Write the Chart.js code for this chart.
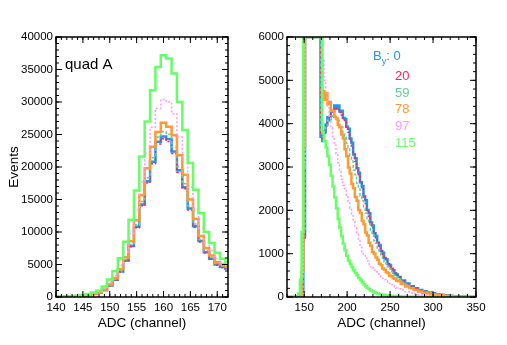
<!DOCTYPE html>
<html>
<head>
<meta charset="utf-8">
<script src="https://cdn.jsdelivr.net/npm/chart.js@4.4.0/dist/chart.umd.min.js"></script>
<style>
  html, body { margin: 0; padding: 0; background: #fff; }
  #wrap { position: relative; width: 507px; height: 345px; overflow: hidden; }
  .pane { position: absolute; top: 0; height: 345px; }
  #leftPane { left: 0; width: 250px; }
  #rightPane { left: 250px; width: 257px; }
</style>
</head>
<body>
<div id="wrap">
  <div class="pane" id="leftPane"><canvas id="leftChart"></canvas></div>
  <div class="pane" id="rightPane"><canvas id="rightChart"></canvas></div>
</div>
<script>
// ---- left panel (quad A), one bin per ADC channel ----
const leftChannels = [140, 141, 142, 143, 144, 145, 146, 147, 148, 149, 150, 151, 152, 153, 154, 155, 156,
  157, 158, 159, 160, 161, 162, 163, 164, 165, 166, 167, 168, 169, 170, 171, 172];
const leftBy0 = [30, 40, 60, 90, 130, 200, 300, 460, 640, 1050, 1780, 2640, 3930, 5600, 7850, 10800, 14250,
  17800, 20800, 23900, 24700, 24300, 22400, 19500, 16900, 13600, 10900, 8600, 6900, 5900, 5000, 4600, 4400];
const leftBy20 = [30, 40, 60, 90, 130, 195, 295, 455, 630, 1035, 1750, 2600, 3870, 5520, 7730, 10640, 14040,
  17530, 20490, 23540, 24330, 23940, 22060, 19210, 16650, 13400, 10740, 8470, 6800, 5810, 4930, 4530, 4330];
const leftBy59 = [30, 40, 60, 95, 135, 205, 310, 475, 660, 1080, 1830, 2720, 4050, 5770, 8090, 11120, 14680,
  18330, 21420, 24620, 25440, 25030, 23070, 20090, 17410, 14010, 11230, 8860, 7110, 6080, 5150, 4740, 4530];
const leftBy78 = [40, 50, 65, 95, 145, 215, 330, 500, 700, 1150, 1950, 2880, 4280, 6120, 8570, 11800, 15700,
  19800, 23100, 25400, 26800, 26200, 24900, 21800, 18800, 15000, 12000, 9400, 7500, 6400, 5400, 5000, 4800];
const leftBy97 = [50, 60, 75, 105, 165, 245, 380, 575, 800, 1310, 2210, 3280, 4880, 6970, 9760, 13450, 17700,
  22100, 26100, 29000, 30400, 30000, 28200, 24600, 21100, 16900, 13500, 10600, 8400, 7100, 5900, 5300, 5000];
const leftBy115 = [60, 70, 90, 130, 200, 300, 460, 700, 970, 1600, 2700, 4000, 5950, 8500, 11900, 16400, 21600,
  27000, 31800, 35400, 37200, 36700, 34400, 30000, 25700, 20600, 16500, 12900, 10000, 8300, 6800, 5900, 5400];
const leftXTicks = [140, 145, 150, 155, 160, 165, 170];
const leftYTicks = [0, 5000, 10000, 15000, 20000, 25000, 30000, 35000, 40000];

// ---- right panel, 2-channel bins up to 260, 5-channel bins in the tail ----
const rightChannels = [130, 132, 134, 136, 138, 140, 142, 144, 146, 148, 150, 152, 154, 156, 158, 160, 162, 164,
  166, 168, 170, 172, 174, 176, 178, 180, 182, 184, 186, 188, 190, 192, 194, 196, 198, 200, 202, 204, 206, 208,
  210, 212, 214, 216, 218, 220, 222, 224, 226, 228, 230, 232, 234, 236, 238, 240, 242, 244, 246, 248, 250, 252,
  254, 256, 258, 260, 265, 270, 275, 280, 285, 290, 295, 300, 305, 310, 315, 320, 325, 330, 335, 340, 345, 350];
const rightBy0 = [0, 0, 0, 0, 0, 0, 0, 0, 0, 150, 1400, 6000, 6000, 6000, 6000, 6000, 6000, 6000, 6000, 6000,
  3700, 3600, 3820, 3980, 4150, 4120, 4300, 4280, 4420, 4350, 4420, 4280, 4300, 4130, 4110, 3930, 3880, 3660,
  3560, 3290, 3200, 2970, 2870, 2650, 2560, 2320, 2230, 2010, 1930, 1720, 1650, 1470, 1410, 1250, 1200, 1060,
  1020, 900, 870, 760, 740, 650, 620, 550, 520, 460,
  380, 310, 250, 200, 160, 130, 105, 85, 65, 50, 38, 28, 20, 14, 9, 6, 3, 2];
const rightBy20 = [0, 0, 0, 0, 0, 0, 0, 0, 0, 120, 1300, 6000, 6000, 6000, 6000, 6000, 6000, 6000, 6000, 6000,
  3750, 3620, 3760, 3950, 4060, 4150, 4220, 4300, 4360, 4350, 4320, 4260, 4200, 4130, 4030, 3920, 3800, 3650,
  3480, 3300, 3130, 2980, 2800, 2650, 2490, 2320, 2160, 2010, 1860, 1730, 1600, 1470, 1360, 1250, 1150, 1060,
  980, 900, 830, 765, 705, 650, 600, 550, 500, 460,
  370, 300, 245, 195, 155, 125, 100, 80, 62, 48, 36, 27, 19, 13, 8, 5, 3, 2];
const rightBy59 = [0, 0, 0, 0, 0, 0, 0, 0, 0, 150, 1500, 6000, 6000, 6000, 6000, 6000, 6000, 6000, 6000, 6000,
  3850, 3700, 3880, 3920, 4080, 4070, 4180, 4150, 4190, 4090, 4080, 3960, 3920, 3770, 3710, 3540, 3450, 3250,
  3140, 2930, 2820, 2620, 2520, 2330, 2220, 2040, 1940, 1770, 1680, 1520, 1450, 1300, 1240, 1110, 1060, 950,
  900, 810, 770, 690, 650, 580, 550, 490, 470, 410,
  340, 270, 215, 170, 135, 108, 85, 66, 50, 38, 28, 20, 14, 9, 6, 4, 2, 1];
const rightBy78 = [0, 0, 0, 0, 0, 0, 0, 0, 50, 600, 3500, 6000, 6000, 6000, 6000, 6000, 6000, 6000, 6000, 6000,
  6000, 4750, 4550, 4700, 4450, 4500, 4300, 4290, 4160, 4120, 3970, 3920, 3750, 3660, 3410, 3250, 2990, 2850,
  2610, 2510, 2310, 2220, 2010, 1940, 1760, 1680, 1490, 1420, 1250, 1180, 1040, 1000, 910, 860, 770, 730,
  660, 630, 570, 550, 490, 480, 430, 420, 375, 365,
  300, 245, 200, 160, 125, 100, 80, 65, 50, 38, 28, 20, 14, 9, 6, 3, 2, 1];
const rightBy97 = [0, 0, 0, 0, 0, 0, 0, 0, 50, 500, 3000, 6000, 6000, 6000, 6000, 6000, 6000, 6000, 6000, 6000,
  6000, 5500, 5000, 4700, 4400, 4150, 3900, 3700, 3500, 3300, 3100, 2900, 2720, 2580, 2460, 2350, 2200, 2050,
  1900, 1750, 1600, 1450, 1300, 1150, 1050, 980, 900, 830, 760, 700, 670, 620, 580, 540, 500, 470,
  430, 400, 370, 340, 310, 285, 260, 235, 210, 190,
  160, 120, 90, 70, 52, 40, 30, 22, 16, 11, 8, 5, 3, 2, 1, 1, 0, 0];
const rightBy115 = [0, 0, 0, 0, 0, 0, 20, 80, 400, 1500, 6000, 6000, 6000, 6000, 6000, 6000, 6000, 6000, 6000, 6000,
  6000, 3800, 3600, 3450, 3250, 3050, 2800, 2550, 2300, 2050, 1800, 1600, 1400, 1230, 1080, 950, 840, 760,
  690, 620, 560, 500, 440, 390, 340, 290, 250, 210, 180, 150, 125, 105, 90, 78, 68, 60,
  52, 45, 40, 35, 30, 27, 24, 21, 18, 16,
  12, 9, 7, 5, 4, 3, 2, 2, 1, 1, 1, 0, 0, 0, 0, 0, 0, 0];
const rightXTicks = [150, 200, 250, 300, 350];
const rightYTicks = [0, 1000, 2000, 3000, 4000, 5000, 6000];

// field values (B_y) and how each one is drawn
const fieldLabels = ['0', '20', '59', '78', '97', '115'];
const STYLES = {
  '0':   { color: '#2196f3', width: 2.5, dash: [],     order: 6 },
  '20':  { color: '#ff1f55', width: 1.5, dash: [2, 2], order: 5 },
  '59':  { color: '#66cc99', width: 1.5, dash: [3, 2], order: 4 },
  '78':  { color: '#ff9933', width: 2.5, dash: [],     order: 3 },
  '97':  { color: '#ff99ff', width: 1.5, dash: [2, 2], order: 2 },
  '115': { color: '#66ff66', width: 2.5, dash: [],     order: 1 }
};

const FONT = "'Liberation Sans', Arial, Helvetica, sans-serif";
Chart.defaults.font.family = FONT;
Chart.defaults.color = '#000';

// ROOT-like frame with inward major/minor ticks on all four sides, plus free text
const frameTicks = {
  id: 'frameTicks',
  afterDatasetsDraw(chart, args, opts) {
    const { ctx, chartArea: a } = chart;
    const xs = chart.scales.x, ys = chart.scales.y;
    ctx.save();
    ctx.strokeStyle = '#000';
    ctx.lineWidth = 1;
    const marks = (scale, step, len) => {
      const n0 = Math.ceil(scale.min / step - 1e-6), n1 = Math.floor(scale.max / step + 1e-6);
      ctx.beginPath();
      for (let n = n0; n <= n1; n++) {
        const p = scale.getPixelForValue(n * step);
        if (scale.isHorizontal()) {
          ctx.moveTo(p, a.bottom); ctx.lineTo(p, a.bottom - len);
          ctx.moveTo(p, a.top); ctx.lineTo(p, a.top + len);
        } else {
          ctx.moveTo(a.left, p); ctx.lineTo(a.left + len, p);
          ctx.moveTo(a.right, p); ctx.lineTo(a.right - len, p);
        }
      }
      ctx.stroke();
    };
    marks(xs, opts.xMinor, 3); marks(xs, opts.xMajor, 6);
    marks(ys, opts.yMinor, 3); marks(ys, opts.yMajor, 6);
    ctx.lineWidth = 1.5;
    ctx.strokeRect(a.left, a.top, a.right - a.left, a.bottom - a.top);
    ctx.restore();
  },
  afterDraw(chart, args, opts) {
    const ctx = chart.ctx;
    ctx.save();
    ctx.textBaseline = 'alphabetic';
    (opts.notes || []).forEach(n => {
      let cx = n.x;
      n.parts.forEach(p => {
        const size = p.sub ? n.size * 0.72 : n.size;
        ctx.font = size + 'px ' + FONT;
        ctx.fillStyle = n.color;
        ctx.fillText(p.t, cx, n.y + (p.sub ? n.size * 0.28 : 0));
        cx += ctx.measureText(p.t).width;
      });
    });
    ctx.restore();
  }
};

function buildChart(id, cfg) {
  const datasets = cfg.series.map((values, i) => {
    const st = STYLES[fieldLabels[i]];
    return {
      label: 'B_y ' + fieldLabels[i],
      data: cfg.xs.map((v, k) => ({ x: v, y: values[k] })),
      borderColor: st.color,
      borderWidth: st.width,
      borderDash: st.dash,
      order: st.order,
      stepped: 'middle',
      pointRadius: 0,
      fill: false,
      borderJoinStyle: 'miter'
    };
  });
  return new Chart(document.getElementById(id), {
    type: 'line',
    data: { datasets },
    options: {
      responsive: true,
      maintainAspectRatio: false,
      animation: false,
      layout: { padding: cfg.padding },
      plugins: {
        legend: { display: false },
        tooltip: { enabled: false },
        frameTicks: cfg.frame
      },
      scales: {
        x: {
          type: 'linear', min: cfg.xMin, max: cfg.xMax,
          grid: { display: false, drawTicks: false },
          border: { display: false },
          afterBuildTicks: s => { s.ticks = cfg.xTicks.map(v => ({ value: v })); },
          afterFit: s => { s.height = 48; },
          ticks: { autoSkip: false, maxRotation: 0, padding: 4, font: { size: 11.5 }, callback: v => String(v) },
          title: { display: true, text: 'ADC (channel)', font: { size: 13.5 }, padding: { top: 0, bottom: 14 } }
        },
        y: {
          type: 'linear', min: cfg.yMin, max: cfg.yMax,
          grid: { display: false, drawTicks: false },
          border: { display: false },
          afterBuildTicks: s => { s.ticks = cfg.yTicks.map(v => ({ value: v })); },
          afterFit: s => { s.width = cfg.yWidth; },
          ticks: { autoSkip: false, padding: 3, font: { size: 11.5 }, callback: v => String(v) },
          title: { display: !!cfg.yTitle, text: cfg.yTitle || '', font: { size: 13.5 }, padding: { top: 6, bottom: 0 } }
        }
      }
    },
    plugins: [frameTicks]
  });
}

buildChart('leftChart', {
  xs: leftChannels,
  series: [leftBy0, leftBy20, leftBy59, leftBy78, leftBy97, leftBy115],
  xMin: 140, xMax: 172, yMin: 0, yMax: 40000,
  xTicks: leftXTicks, yTicks: leftYTicks,
  yWidth: 56, yTitle: 'Events',
  padding: { left: 0, top: 37, right: 22, bottom: 0 },
  frame: {
    xMajor: 5, xMinor: 1, yMajor: 5000, yMinor: 1000,
    notes: [{ x: 65, y: 69, size: 15, color: '#000', parts: [{ t: 'quad A' }] }]
  }
});

buildChart('rightChart', {
  xs: rightChannels,
  series: [rightBy0, rightBy20, rightBy59, rightBy78, rightBy97, rightBy115],
  xMin: 130, xMax: 350, yMin: 0, yMax: 6000,
  xTicks: rightXTicks, yTicks: rightYTicks,
  yWidth: 37,
  padding: { left: 0, top: 37, right: 31, bottom: 0 },
  frame: {
    xMajor: 50, xMinor: 10, yMajor: 1000, yMinor: 200,
    notes: [
      { x: 123, y: 60, size: 13, color: STYLES['0'].color, parts: [{ t: 'B' }, { t: 'y', sub: true }, { t: ': ' + fieldLabels[0] }] },
      { x: 145, y: 80, size: 13, color: STYLES['20'].color, parts: [{ t: fieldLabels[1] }] },
      { x: 145, y: 96.5, size: 13, color: STYLES['59'].color, parts: [{ t: fieldLabels[2] }] },
      { x: 145, y: 113, size: 13, color: STYLES['78'].color, parts: [{ t: fieldLabels[3] }] },
      { x: 145, y: 130, size: 13, color: STYLES['97'].color, parts: [{ t: fieldLabels[4] }] },
      { x: 145, y: 146.5, size: 13, color: STYLES['115'].color, parts: [{ t: fieldLabels[5] }] }
    ]
  }
});
</script>
</body>
</html>
